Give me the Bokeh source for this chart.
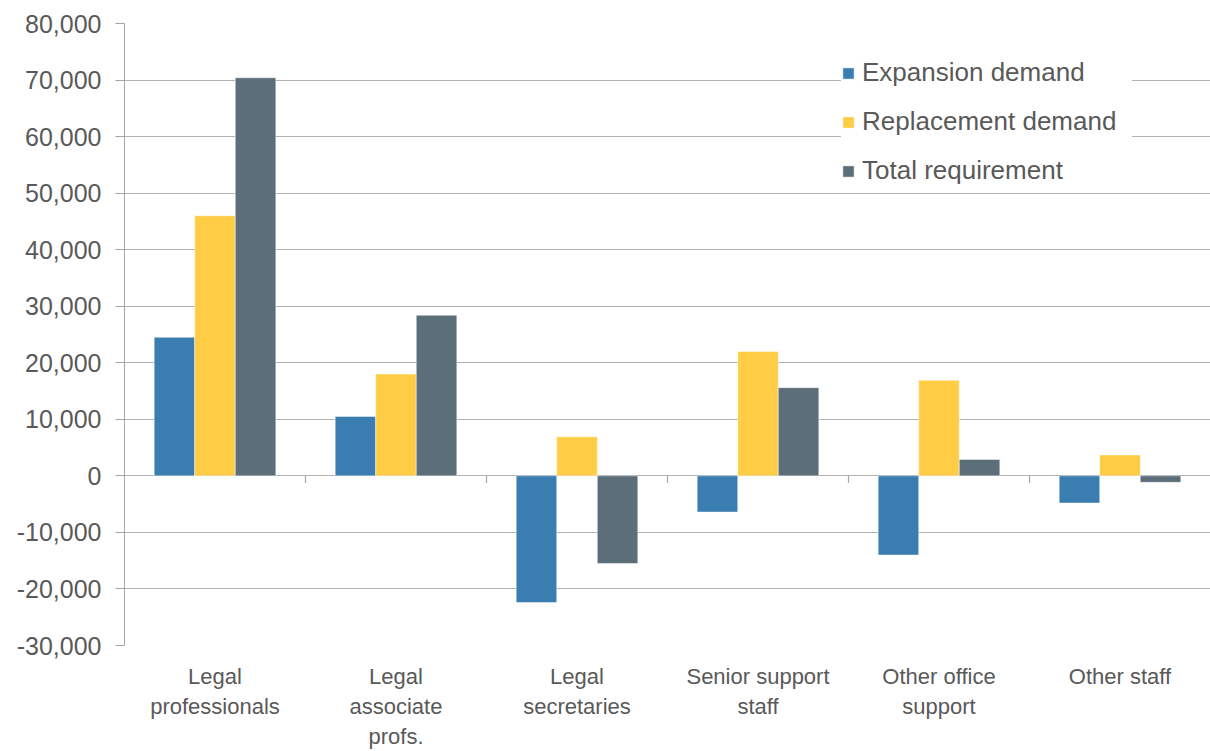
from bokeh.plotting import figure
from bokeh.models import (Range1d, FactorRange, FixedTicker, NumeralTickFormatter,
                          Legend, LegendItem, ColumnDataSource)
from bokeh.transform import dodge
from bokeh.embed import file_html
from bokeh.resources import INLINE

# Occupational demand by staff group
categories = ["Legal\nprofessionals", "Legal\nassociate\nprofs.", "Legal\nsecretaries",
              "Senior support\nstaff", "Other office\nsupport", "Other staff"]
expansion = [24500, 10500, -22400, -6400, -14000, -4800]
replacement = [46000, 18000, 6900, 22000, 16900, 3700]
total = [70400, 28400, -15500, 15600, 2900, -1150]
series_names = ["Expansion demand", "Replacement demand", "Total requirement"]
y_ticks = list(range(-30000, 80001, 10000))

colors = ["#3A7DB1", "#FFCD45", "#5B6E7A"]
text_color = "#595959"
grid_color = "#B2B2B2"
font = "Liberation Sans"

source = ColumnDataSource(dict(cat=categories, exp=expansion, rep=replacement, tot=total))

p = figure(width=1210, height=751, x_range=FactorRange(factors=categories),
           y_range=Range1d(-30000, 80000), output_backend="svg",
           toolbar_location=None, min_border_left=124, min_border_top=23,
           min_border_bottom=105, min_border_right=0)
p.outline_line_color = None
p.background_fill_color = "white"
p.border_fill_color = "white"

bw = 0.224
renderers = []
for field, off, col in zip(["exp", "rep", "tot"], [-bw, 0, bw], colors):
    r = p.vbar(x=dodge("cat", off, range=p.x_range), top=field, bottom=0, width=bw,
               source=source, fill_color=col, line_color="white", line_alpha=0.45,
               line_width=1)
    renderers.append(r)

# small separator ticks on the zero line between category groups
sep = ColumnDataSource(dict(cat=categories[1:], y0=[0] * 5, y1=[-1250] * 5))
p.segment(x0=dodge("cat", -0.5, range=p.x_range), x1=dodge("cat", -0.5, range=p.x_range),
          y0="y0", y1="y1", source=sep, line_color="#A6A6A6", line_width=1.2)

# y axis
p.yaxis.ticker = FixedTicker(ticks=y_ticks)
p.yaxis.formatter = NumeralTickFormatter(format="0,0")
p.yaxis.major_label_text_font = font
p.yaxis.major_label_text_font_size = "25px"
p.yaxis.major_label_text_color = text_color
p.yaxis.major_tick_out = 9
p.yaxis.major_tick_in = 0
p.yaxis.major_tick_line_color = "#A6A6A6"
p.yaxis.axis_line_color = "#A6A6A6"
p.yaxis.minor_tick_line_color = None
p.yaxis.major_label_standoff = 14

# x axis
p.xaxis.axis_line_color = None
p.xaxis.major_tick_line_color = None
p.xaxis.major_label_text_font = font
p.xaxis.major_label_text_font_size = "22px"
p.xaxis.major_label_text_color = text_color
p.xaxis.major_label_standoff = 12

p.xgrid.grid_line_color = None
p.ygrid.ticker = FixedTicker(ticks=y_ticks)
p.ygrid.grid_line_color = grid_color
p.ygrid.grid_line_width = 1

legend = Legend(items=[LegendItem(label=n, renderers=[r]) for n, r in zip(series_names, renderers)],
                location=(717, 459), border_line_color=None, background_fill_color="white",
                background_fill_alpha=1.0, label_text_font=font, label_text_font_size="26px",
                label_text_color=text_color, glyph_width=14, glyph_height=14,
                label_height=24, label_width=270, spacing=18, padding=19,
                label_standoff=7, margin=0)
p.add_layout(legend)

open("out.html", "w").write(file_html(p, INLINE))
